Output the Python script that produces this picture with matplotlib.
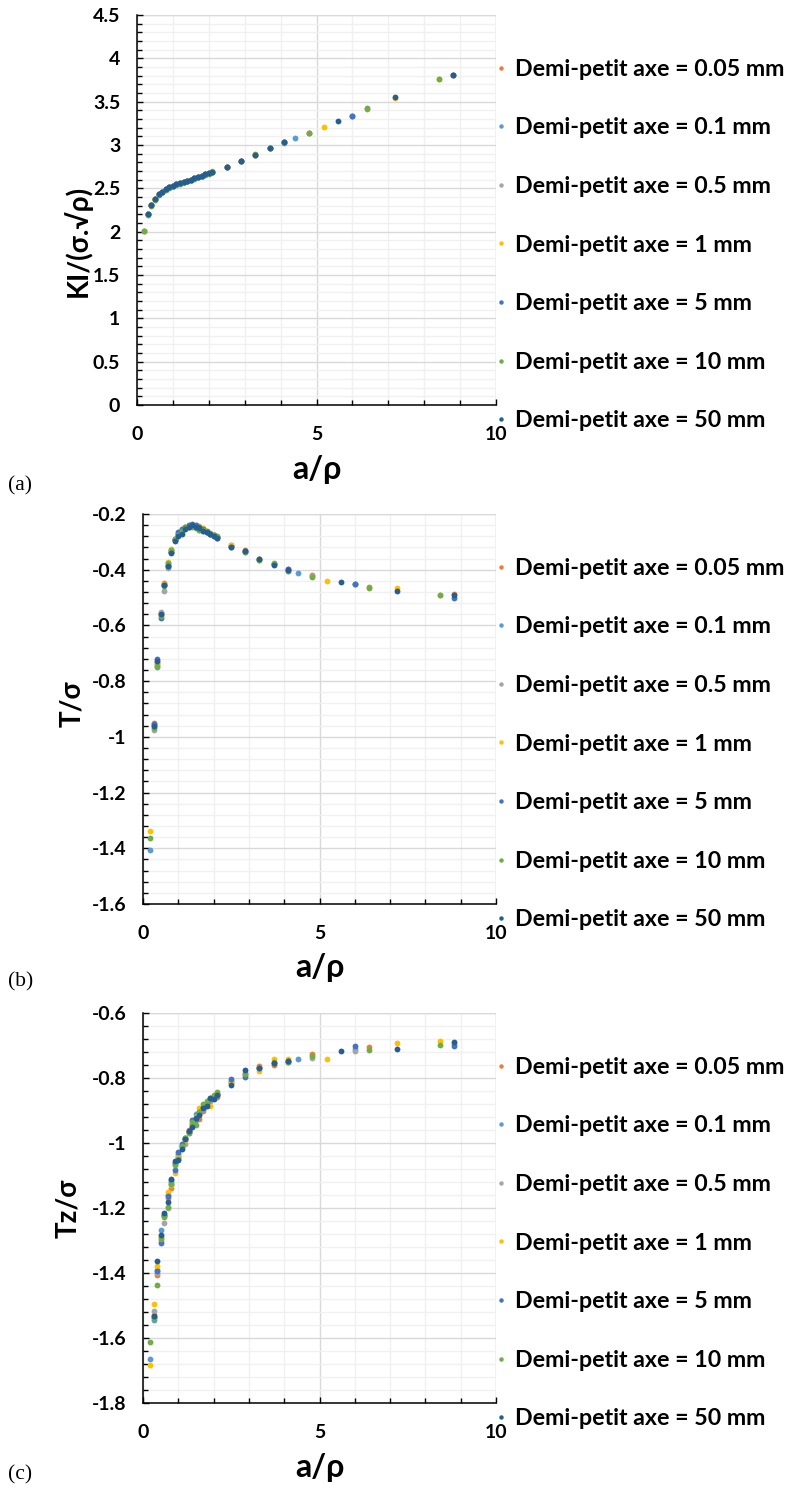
import matplotlib
matplotlib.use("Agg")
import matplotlib.pyplot as plt
from matplotlib.lines import Line2D
from matplotlib.ticker import MultipleLocator, FuncFormatter

plt.rcParams['font.family'] = ['Lato', 'DejaVu Sans']
plt.rcParams['font.weight'] = 'bold'

# Legend labels and Excel series colours
labels = ["Demi-petit axe = 0.05 mm", "Demi-petit axe = 0.1 mm",
          "Demi-petit axe = 0.5 mm", "Demi-petit axe = 1 mm",
          "Demi-petit axe = 5 mm", "Demi-petit axe = 10 mm",
          "Demi-petit axe = 50 mm"]
colors = ['#ED7D31', '#5B9BD5', '#A5A5A5', '#FFC000', '#4472C4', '#70AD47', '#255E91']
tags = ["(a)", "(b)", "(c)"]

# a/rho values (common dense part + series specific points)
x_dense = [0.3, 0.4, 0.5, 0.6, 0.7, 0.8, 0.9, 1.0, 1.1, 1.2,
           1.3, 1.4, 1.5, 1.6, 1.7, 1.8, 1.9, 2.0, 2.1]
x_005 = x_dense + [2.5, 2.9, 3.3, 3.7, 4.1, 4.8, 6.4, 8.8]
x_01 = [0.2] + x_dense + [2.5, 2.9, 3.3, 4.4, 6.0]
x_05 = x_dense + [2.5, 3.3, 4.1, 4.8, 6.0]
x_1 = [0.2] + x_dense + [2.5, 3.3, 3.7, 4.1, 5.2, 7.2, 8.4]
x_5 = x_dense + [2.5, 2.9, 3.7, 4.1, 6.0, 8.8]
x_10 = [0.2] + x_dense + [2.9, 3.3, 3.7, 4.1, 4.8, 6.4, 8.4]
x_50 = x_dense + [2.5, 2.9, 3.3, 3.7, 4.1, 5.6, 7.2, 8.8]

# (a) KI/(sigma.sqrt(rho))
ki_005 = [2.20, 2.31, 2.38, 2.43, 2.46, 2.49, 2.51, 2.53, 2.545, 2.56, 2.575, 2.59, 2.60, 2.615,
          2.63, 2.645, 2.66, 2.675, 2.69, 2.75, 2.81, 2.89, 2.96, 3.02, 3.14, 3.42, 3.81]
ki_01 = [2.01, 2.20, 2.31, 2.38, 2.43, 2.46, 2.49, 2.51, 2.53, 2.545, 2.56, 2.575, 2.59, 2.60,
         2.615, 2.63, 2.645, 2.66, 2.675, 2.69, 2.75, 2.81, 2.89, 3.08, 3.34]
ki_05 = [2.20, 2.31, 2.38, 2.43, 2.46, 2.49, 2.51, 2.53, 2.545, 2.56, 2.575, 2.59, 2.60, 2.615,
         2.63, 2.645, 2.66, 2.675, 2.69, 2.75, 2.89, 3.03, 3.14, 3.34]
ki_1 = [2.01, 2.20, 2.31, 2.38, 2.43, 2.46, 2.49, 2.51, 2.53, 2.545, 2.56, 2.575, 2.59, 2.60,
        2.615, 2.63, 2.645, 2.66, 2.68, 2.695, 2.75, 2.89, 2.97, 3.03, 3.21, 3.54, 3.76]
ki_5 = [2.20, 2.31, 2.38, 2.43, 2.46, 2.49, 2.51, 2.53, 2.545, 2.56, 2.575, 2.59, 2.60, 2.615,
        2.63, 2.645, 2.66, 2.675, 2.69, 2.75, 2.81, 2.96, 3.03, 3.34, 3.81]
ki_10 = [2.01, 2.19, 2.30, 2.37, 2.42, 2.455, 2.485, 2.505, 2.525, 2.54, 2.555, 2.57, 2.585, 2.60,
         2.61, 2.625, 2.64, 2.655, 2.67, 2.685, 2.82, 2.90, 2.96, 3.03, 3.14, 3.43, 3.76]
ki_50 = [2.20, 2.31, 2.38, 2.43, 2.46, 2.49, 2.51, 2.53, 2.545, 2.56, 2.575, 2.59, 2.60, 2.615,
         2.63, 2.645, 2.66, 2.675, 2.69, 2.75, 2.81, 2.89, 2.96, 3.03, 3.28, 3.55, 3.81]

# (b) T/sigma
t_005 = [-0.950, -0.730, -0.555, -0.448, -0.380, -0.330, -0.292, -0.270, -0.257, -0.249,
         -0.243, -0.240, -0.242, -0.248, -0.256, -0.264, -0.270, -0.277, -0.284,
         -0.312, -0.330, -0.362, -0.378, -0.398, -0.418, -0.463, -0.487]
t_01 = [-1.407, -0.958, -0.749, -0.560, -0.455, -0.385, -0.335, -0.295, -0.272, -0.258, -0.250,
        -0.244, -0.241, -0.243, -0.258, -0.262, -0.266, -0.272, -0.279, -0.286,
        -0.315, -0.335, -0.362, -0.412, -0.452]
t_05 = [-0.977, -0.740, -0.552, -0.475, -0.395, -0.335, -0.293, -0.272, -0.259, -0.251,
        -0.245, -0.241, -0.244, -0.250, -0.257, -0.265, -0.272, -0.278, -0.285,
        -0.316, -0.364, -0.403, -0.422, -0.452]
t_1 = [-1.339, -0.960, -0.740, -0.560, -0.450, -0.371, -0.326, -0.290, -0.268, -0.255, -0.247,
       -0.241, -0.238, -0.240, -0.244, -0.250, -0.262, -0.270, -0.276, -0.283,
       -0.310, -0.362, -0.380, -0.400, -0.439, -0.464, -0.489]
t_5 = [-0.955, -0.719, -0.573, -0.455, -0.385, -0.336, -0.288, -0.265, -0.254, -0.246,
       -0.240, -0.237, -0.241, -0.247, -0.254, -0.263, -0.270, -0.276, -0.283,
       -0.318, -0.333, -0.380, -0.398, -0.450, -0.500]
t_10 = [-1.363, -0.968, -0.744, -0.565, -0.460, -0.376, -0.330, -0.290, -0.275, -0.262, -0.252,
        -0.248, -0.246, -0.250, -0.256, -0.258, -0.262, -0.268, -0.274, -0.280,
        -0.338, -0.365, -0.376, -0.405, -0.426, -0.467, -0.490]
t_50 = [-0.962, -0.729, -0.559, -0.455, -0.388, -0.340, -0.296, -0.278, -0.270, -0.254,
        -0.248, -0.241, -0.245, -0.252, -0.262, -0.265, -0.270, -0.278, -0.286,
        -0.320, -0.332, -0.363, -0.384, -0.401, -0.445, -0.476, -0.492]

# (c) Tz/sigma
tz_005 = [-1.530, -1.405, -1.290, -1.225, -1.170, -1.138, -1.060, -1.043, -1.010, -0.985,
          -0.960, -0.945, -0.925, -0.926, -0.900, -0.880, -0.870, -0.860, -0.858,
          -0.815, -0.785, -0.764, -0.761, -0.750, -0.726, -0.706, -0.695]
tz_01 = [-1.664, -1.544, -1.390, -1.269, -1.220, -1.160, -1.120, -1.060, -1.035, -1.010, -0.990,
         -0.965, -0.940, -0.910, -0.910, -0.895, -0.880, -0.868, -0.860, -0.852,
         -0.810, -0.790, -0.770, -0.742, -0.710]
tz_05 = [-1.518, -1.400, -1.300, -1.246, -1.200, -1.125, -1.065, -1.040, -1.012, -1.002,
         -0.968, -0.945, -0.930, -0.910, -0.895, -0.880, -0.870, -0.858, -0.852,
         -0.812, -0.770, -0.752, -0.738, -0.718]
tz_1 = [-1.683, -1.496, -1.377, -1.290, -1.225, -1.152, -1.130, -1.092, -1.045, -1.010, -0.990,
        -0.965, -0.945, -0.920, -0.892, -0.890, -0.885, -0.885, -0.860, -0.850,
        -0.813, -0.777, -0.742, -0.742, -0.741, -0.692, -0.686]
tz_5 = [-1.535, -1.395, -1.308, -1.220, -1.164, -1.115, -1.084, -1.029, -1.002, -0.985,
        -0.962, -0.930, -0.925, -0.905, -0.890, -0.878, -0.865, -0.855, -0.850,
        -0.803, -0.797, -0.755, -0.748, -0.703, -0.703]
tz_10 = [-1.611, -1.538, -1.438, -1.295, -1.228, -1.197, -1.125, -1.067, -1.050, -1.010, -0.985,
         -0.970, -0.935, -0.944, -0.905, -0.880, -0.872, -0.860, -0.851, -0.844,
         -0.787, -0.770, -0.750, -0.752, -0.733, -0.713, -0.698]
tz_50 = [-1.531, -1.362, -1.283, -1.215, -1.182, -1.111, -1.055, -1.051, -1.017, -0.988,
         -0.964, -0.950, -0.923, -0.913, -0.892, -0.887, -0.862, -0.865, -0.851,
         -0.823, -0.774, -0.769, -0.754, -0.747, -0.716, -0.710, -0.690]

xs = [x_005, x_01, x_05, x_1, x_5, x_10, x_50]
ki = [ki_005, ki_01, ki_05, ki_1, ki_5, ki_10, ki_50]
t = [t_005, t_01, t_05, t_1, t_5, t_10, t_50]
tz = [tz_005, tz_01, tz_05, tz_1, tz_5, tz_10, tz_50]

W, H = 795, 1497
fig = plt.figure(figsize=(W / 100, H / 100), dpi=100)


def px_axes(left, top, right, bottom):
    return fig.add_axes([left / W, 1 - bottom / H, (right - left) / W, (bottom - top) / H])


panels = [
    # box (px), data, ylim, major, ylabel, ylabel center (px), panel tag y, legend center y
    ((137, 15, 496, 405), ki, (0, 4.5), 0.5, "KI/(σ.√ρ)", (77, 241), 486, 245),
    ((143, 514, 496, 904), t, (-1.6, -0.2), 0.2, "T/σ", (72, 704), 982, 744),
    ((143, 1013, 496, 1403), tz, (-1.8, -0.6), 0.2, "Tz/σ", (68, 1208), 1475, 1243),
]

for i, (box, ydata, ylim, major, ylab, lab_xy, tag_y, leg_y) in enumerate(panels):
    ax = px_axes(*box)
    h = box[3] - box[1]
    for xv, yv, c in zip(xs, ydata, colors):
        ax.plot(xv, yv, 'o', color=c, markersize=4.2, markeredgewidth=0, zorder=3)

    ax.set_xlim(0, 10)
    ax.set_ylim(*ylim)
    ax.xaxis.set_major_locator(MultipleLocator(5))
    ax.xaxis.set_minor_locator(MultipleLocator(1))
    ax.yaxis.set_major_locator(MultipleLocator(major))
    ax.yaxis.set_minor_locator(MultipleLocator(major / 5))
    ax.yaxis.set_major_formatter(FuncFormatter(lambda v, p: f"{v:g}"))
    ax.xaxis.set_major_formatter(FuncFormatter(lambda v, p: f"{v:g}"))

    ax.grid(which='major', color='#D9D9D9', linewidth=1.0)
    ax.grid(which='minor', color='#F0F0F0', linewidth=1.0)
    ax.set_axisbelow(True)
    for s in ['top', 'right']:
        ax.spines[s].set_visible(False)
    for s in ['left', 'bottom']:
        ax.spines[s].set_linewidth(1.1)
        ax.spines[s].set_zorder(4)

    ax.tick_params(which='major', direction='in', length=4.5, width=1.0, labelsize=14, pad=12)
    ax.tick_params(which='minor', direction='in', length=3.5, width=1.0)
    ax.tick_params(axis='x', which='major', pad=15)

    # right / top gridlines at the limits, like the Excel plot area
    ax.axvline(10, color='#D9D9D9', linewidth=1.0, zorder=0)
    ax.axhline(ylim[1], color='#D9D9D9', linewidth=1.0, zorder=0)

    ax.set_ylabel(ylab, fontsize=20, fontweight='bold', va='center', ha='center')
    ax.yaxis.set_label_coords((lab_xy[0] - box[0]) / (box[2] - box[0]),
                              (box[3] - lab_xy[1]) / h)
    ax.set_xlabel("a/ρ", fontsize=23, fontweight='bold')
    ax.xaxis.set_label_coords(0.5, -64 / h)
    ax.xaxis.label.set_va('center')

    handles = [Line2D([], [], linestyle='none', marker='o', markersize=3.2,
                      markeredgewidth=0, color=c) for c in colors]
    ax.legend(handles, labels, loc='center left',
              bbox_to_anchor=(494 / W, 1 - leg_y / H), bbox_transform=fig.transFigure,
              frameon=False, handlelength=0.6, handletextpad=0.3,
              labelspacing=1.62, borderpad=0, borderaxespad=0,
              prop={'weight': 'bold', 'size': 16.7})

    fig.text(8 / W, 1 - tag_y / H, tags[i], family='Liberation Serif',
             fontweight='normal', fontsize=15.5, va='center', ha='left')

fig.savefig("out.png", dpi=100)
